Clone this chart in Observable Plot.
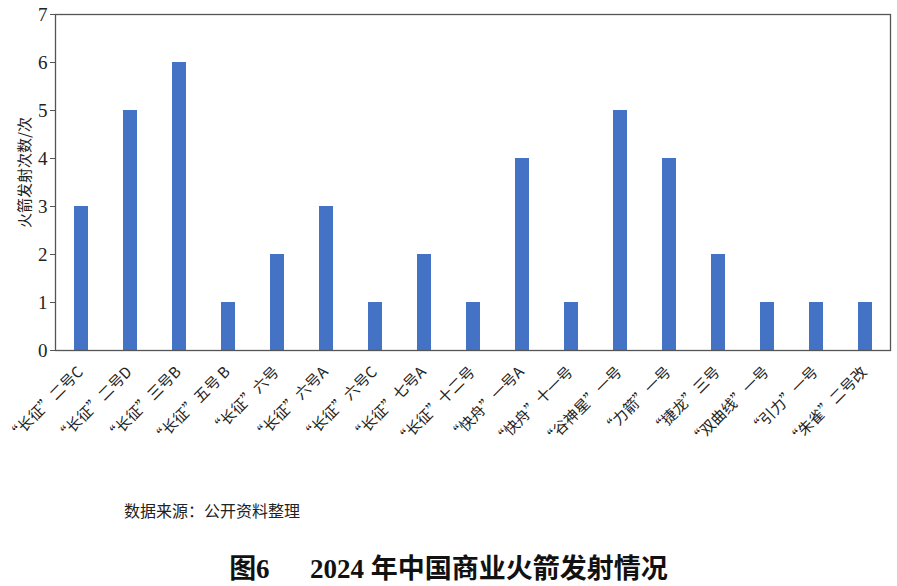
<!DOCTYPE html>
<html>
<head>
<meta charset="utf-8">
<script src="https://cdn.jsdelivr.net/npm/d3@7"></script>
<script src="https://cdn.jsdelivr.net/npm/@observablehq/plot@0.6"></script>
<style>
  body { margin: 0; background: #fff; width: 897px; height: 586px; overflow: hidden; }
  #chart svg { display: block; }
  .source { position: absolute; left: 124px; top: 498px; font-family: "Noto Sans CJK SC", sans-serif; font-size: 16px; color: #222; }
  .title { position: absolute; left: 0; width: 897px; top: 555px; line-height: 1.1; text-align: center; font-family: "Liberation Serif", "Noto Sans CJK SC", serif; font-size: 27px; font-weight: bold; color: #111; white-space: pre; }
</style>
</head>
<body>
<div id="chart"></div>
<div class="source">数据来源：公开资料整理</div>
<div class="title">图6      2024 年中国商业火箭发射情况</div>
<script>
const rockets = ["“长征”二号C", "“长征”二号D", "“长征”三号B", "“长征”五号 B", "“长征”六号", "“长征”六号A", "“长征”六号C", "“长征”七号A", "“长征”十二号", "“快舟”一号A", "“快舟”十一号", "“谷神星”一号", "“力箭”一号", "“捷龙”三号", "“双曲线”一号", "“引力”一号", "“朱雀”二号改"];
const launches = [3, 5, 6, 1, 2, 3, 1, 2, 1, 4, 1, 5, 4, 2, 1, 1, 1];
const yTicks = [0, 1, 2, 3, 4, 5, 6, 7];
const yLabel = "火箭发射次数/次";

const data = rockets.map((r, i) => ({rocket: r, count: launches[i]}));

const chart = Plot.plot({
  width: 897,
  height: 470,
  marginLeft: 55,
  marginRight: 7,
  marginTop: 14,
  marginBottom: 120,
  style: {background: "#fff"},
  x: {domain: rockets, paddingInner: 0.715, paddingOuter: 0.3575, label: null},
  y: {domain: [0, 7], label: null},
  marks: [
    Plot.barY(data, {x: "rocket", y: "count", fill: "#4472c4"}),
    Plot.frame({stroke: "#555", strokeWidth: 1.3}),
    Plot.axisY({ticks: yTicks, tickSize: 5, tickPadding: 3, tickFormat: d3.format("d"), fontSize: 19, fontFamily: "Liberation Serif, serif", stroke: "#555", color: "#222", label: null}),
    Plot.axisX({tickSize: 0, tickRotate: -45, tickPadding: 19, fontSize: 15, fontFamily: "Noto Sans CJK SC, sans-serif", color: "#222", label: null, dx: -1}),
    Plot.text([yLabel], {frameAnchor: "left", textAnchor: "middle", dx: -30, dy: -10, rotate: -90, fontSize: 15, fontFamily: "Noto Sans CJK SC, sans-serif", fill: "#222"})
  ]
});
document.getElementById("chart").appendChild(chart);
</script>
</body>
</html>
